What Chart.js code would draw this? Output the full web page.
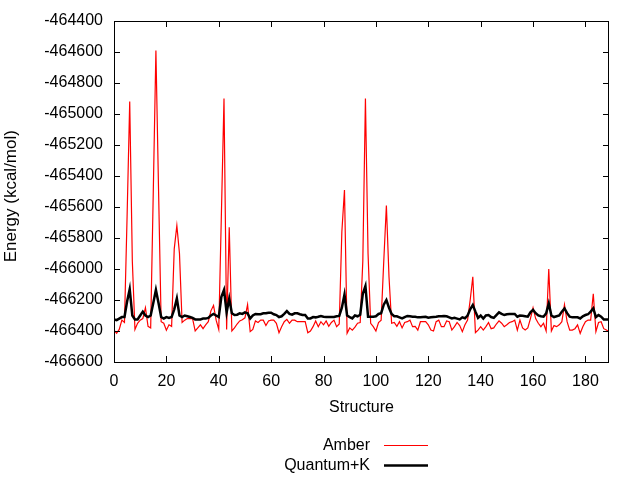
<!DOCTYPE html>
<html>
<head>
<meta charset="utf-8">
<script src="https://cdn.jsdelivr.net/npm/chart.js@4"></script>
<style>
  body { margin: 0; background: #fff; }
  canvas { display: block; }
</style>
</head>
<body>
<canvas id="energyChart" width="640" height="480"></canvas>
<script>
// energies per structure (kcal/mol)
const amber = [
  -466395, -466415, -466390, -466330, -466345, -465660, -464920, -465950, -466390, -466350,
  -466330, -466320, -466250, -466370, -466380, -465500, -464590, -465480, -466340, -466350,
  -466395, -466360, -466370, -465870, -465720, -465900, -466345, -466330, -466320, -466320,
  -466320, -466400, -466380, -466360, -466385, -466360, -466340, -466270, -466235, -466330,
  -466390, -465650, -464900, -466390, -465730, -466400, -466380, -466355, -466335, -466328,
  -466315, -466230, -466404, -466390, -466335, -466345, -466330, -466330, -466365, -466335,
  -466330, -466330, -466350, -466411, -466372, -466340, -466325, -466350, -466330, -466330,
  -466340, -466340, -466340, -466340, -466411, -466400, -466372, -466335, -466372, -466340,
  -466360, -466335, -466370, -466345, -466330, -466372, -466355, -465760, -465490, -466415,
  -466380, -466395, -466375, -466350, -466345, -465950, -464900, -465900, -466350, -466372,
  -466400, -466345, -466330, -465950, -465590, -466050, -466350, -466345, -466370, -466340,
  -466380, -466345, -466340, -466330, -466372, -466370, -466394, -466340, -466340, -466340,
  -466360, -466394, -466400, -466340, -466330, -466372, -466372, -466335, -466340, -466394,
  -466372, -466345, -466365, -466404, -466360, -466329, -466200, -466050, -466410, -466394,
  -466372, -466394, -466372, -466345, -466385, -466380, -466355, -466335, -466350, -466372,
  -466360, -466345, -466340, -466330, -466395, -466330, -466380, -466394, -466380, -466320,
  -466250, -466320, -466350, -466372, -466350, -466400, -466000, -466400, -466365, -466372,
  -466360, -466340, -466230, -466340, -466394, -466394, -466385, -466360, -466415, -466372,
  -466340, -466329, -466330, -466160, -466404, -466345, -466340, -466385, -466394, -466404
];

const quantumK = [
  -466325, -466330, -466320, -466310, -466310, -466210, -466130, -466300, -466325, -466325,
  -466300, -466275, -466300, -466310, -466300, -466220, -466135, -466220, -466310, -466320,
  -466310, -466315, -466310, -466260, -466190, -466300, -466310, -466300, -466305, -466310,
  -466315, -466325, -466325, -466325, -466320, -466320, -466315, -466300, -466290, -466300,
  -466310, -466180, -466135, -466280, -466190, -466285, -466297, -466295, -466286, -466290,
  -466280, -466286, -466320, -466300, -466290, -466292, -466292, -466286, -466286, -466282,
  -466282, -466292, -466297, -466310, -466305, -466290, -466272, -466290, -466295, -466286,
  -466286, -466292, -466297, -466297, -466319, -466319, -466310, -466312, -466308, -466303,
  -466308, -466310, -466310, -466310, -466310, -466305, -466303, -466250, -466165, -466300,
  -466310, -466319, -466300, -466305, -466295, -466160, -466110, -466308, -466308, -466308,
  -466305, -466290, -466285, -466230, -466200, -466250, -466290, -466305, -466305, -466312,
  -466319, -466310, -466303, -466305, -466308, -466308, -466312, -466312, -466310, -466308,
  -466314, -466312, -466310, -466308, -466305, -466305, -466303, -466305, -466312, -466319,
  -466315, -466320, -466325, -466312, -466318, -466300, -466260, -466232, -466275, -466315,
  -466300, -466320, -466300, -466297, -466310, -466315, -466297, -466280, -466290, -466297,
  -466292, -466290, -466290, -466290, -466308, -466300, -466302, -466305, -466308, -466280,
  -466264, -466285, -466300, -466305, -466308, -466286, -466222, -466300, -466310, -466305,
  -466300, -466275, -466254, -466285, -466308, -466312, -466312, -466312, -466319, -466305,
  -466297, -466292, -466275, -466254, -466310, -466297, -466308, -466325, -466325, -466325
];

const xTickValues = [0, 20, 40, 60, 80, 100, 120, 140, 160, 180];
const yTickValues = [-466600, -466400, -466200, -466000, -465800, -465600, -465400,
                     -465200, -465000, -464800, -464600, -464400];

const structures = amber.map((_, i) => i);
const FAMILY = '"Liberation Sans", Arial, sans-serif';
const FONT = { family: FAMILY, size: 16 };

// gnuplot style frame with inward ticks on all four sides
const framePlugin = {
  id: 'frame',
  afterDatasetsDraw(chart) {
    const { ctx, chartArea: a, scales } = chart;
    ctx.save();
    ctx.strokeStyle = '#000';
    ctx.lineWidth = 1;
    ctx.strokeRect(a.left + 0.5, a.top + 0.5, a.right - a.left - 1, a.bottom - a.top);
    ctx.beginPath();
    scales.x.ticks.forEach(t => {
      const px = Math.round(scales.x.getPixelForValue(t.value)) + 0.5;
      ctx.moveTo(px, a.bottom); ctx.lineTo(px, a.bottom - 6);
      ctx.moveTo(px, a.top); ctx.lineTo(px, a.top + 6);
    });
    scales.y.ticks.forEach(t => {
      const py = Math.round(scales.y.getPixelForValue(t.value)) + 0.5;
      ctx.moveTo(a.left, py); ctx.lineTo(a.left + 6, py);
      ctx.moveTo(a.right, py); ctx.lineTo(a.right - 6, py);
    });
    ctx.stroke();
    ctx.restore();
  }
};

// legend: label right-aligned, sample line to its right, one row per series
const legendPlugin = {
  id: 'keyBox',
  afterDraw(chart) {
    const { ctx } = chart;
    ctx.save();
    ctx.font = FONT.size + 'px ' + FAMILY;
    ctx.textAlign = 'right';
    ctx.textBaseline = 'middle';
    chart.data.datasets.forEach((ds, i) => {
      const y = 445 + i * 20;
      ctx.fillStyle = '#000';
      ctx.fillText(ds.label, 370, y + 1);
      ctx.strokeStyle = ds.borderColor;
      ctx.lineWidth = ds.borderWidth;
      ctx.beginPath();
      ctx.moveTo(384, y + 0.5);
      ctx.lineTo(428, y + 0.5);
      ctx.stroke();
    });
    ctx.restore();
  }
};

const ctx = document.getElementById('energyChart').getContext('2d');
new Chart(ctx, {
  type: 'line',
  data: {
    datasets: [{
      label: 'Amber',
      data: structures.map(i => ({ x: i, y: amber[i] })),
      borderColor: '#ff0000',
      borderWidth: 1.2,
      pointRadius: 0,
      tension: 0,
      order: 1
    }, {
      label: 'Quantum+K',
      data: structures.map(i => ({ x: i, y: quantumK[i] })),
      borderColor: '#000000',
      borderWidth: 2.5,
      pointRadius: 0,
      tension: 0,
      order: 0
    }]
  },
  options: {
    responsive: false,
    animation: false,
    devicePixelRatio: 1,
    layout: { padding: { top: 21, right: 31, left: 0, bottom: 59 } },
    plugins: { legend: { display: false }, tooltip: { enabled: false } },
    scales: {
      x: {
        type: 'linear',
        min: 0,
        max: 189,
        afterBuildTicks: s => { s.ticks = xTickValues.map(v => ({ value: v })); },
        afterFit: s => { s.height = 59; },
        grid: { display: false, drawTicks: false },
        border: { display: false },
        ticks: { color: '#000', font: FONT, padding: 10, maxRotation: 0, callback: v => String(v) },
        title: { display: true, text: 'Structure', color: '#000', font: FONT }
      },
      y: {
        min: -466600,
        max: -464400,
        afterBuildTicks: s => { s.ticks = yTickValues.map(v => ({ value: v })); },
        afterFit: s => { s.width = 114; },
        grid: { display: false, drawTicks: false },
        border: { display: false },
        ticks: { color: '#000', font: FONT, padding: 11, callback: v => String(v) },
        title: {
          display: true,
          text: 'Energy (kcal/mol)  ',
          color: '#000',
          font: { family: FAMILY, size: 17 },
          padding: { top: 1, bottom: 4 }
        }
      }
    }
  },
  plugins: [framePlugin, legendPlugin]
});
</script>
</body>
</html>
